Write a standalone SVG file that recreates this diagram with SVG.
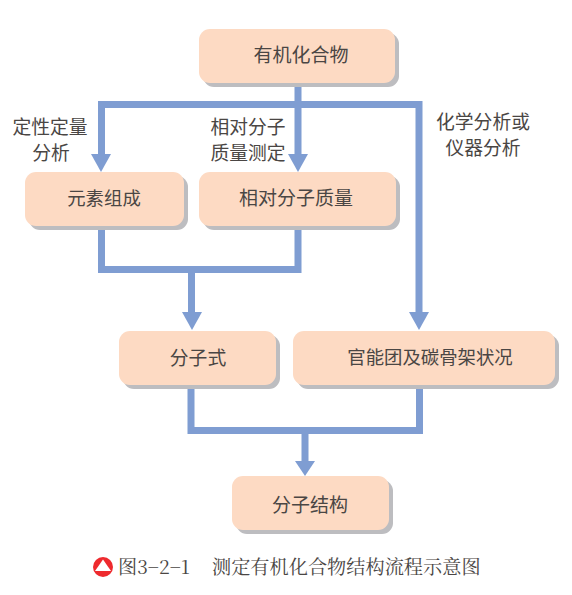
<svg xmlns="http://www.w3.org/2000/svg" width="572" height="595" viewBox="0 0 572 595">
<style>
text{font-family:"Noto Sans CJK SC","Liberation Sans",sans-serif;font-size:19px;fill:#4a4644;text-anchor:middle}
.lb{font-size:18.800px}
.nr{font-size:18.400px}
.cap{font-family:"Noto Serif CJK SC","Liberation Serif","Noto Sans CJK SC",serif;font-size:19.200px;text-anchor:start}
.box{fill:#fddac3}
.sh{fill:#bdbdc0}
.ln{fill:none;stroke:#7f9dd2;stroke-width:7}
.ah{fill:#7f9dd2}
</style>
<rect width="572" height="595" fill="#fff"/>
<g id="connectors">
<path class="ln" d="M298 83V158M101.500 158V104.500H419V316"/>
<path class="ln" d="M101.500 226V269.500H298V226M191.500 269.500V316"/>
<path class="ln" d="M191 384V430.500H419.500V384M305 430.500V462"/>
<polygon class="ah" points="91,154 111,154 101,172"/>
<polygon class="ah" points="288,154 308,154 298,172"/>
<polygon class="ah" points="182,312 202,312 192,330"/>
<polygon class="ah" points="409,312 429,312 419,330"/>
<polygon class="ah" points="295,461 315,461 305,476"/>
</g>
<g id="n1"><rect class="sh" x="203" y="33" width="196" height="54" rx="11"/><rect class="box" x="199" y="29" width="196" height="54" rx="11"/><text x="301" y="62">有机化合物</text></g>
<g id="n2"><rect class="sh" x="29" y="176" width="159" height="54" rx="11"/><rect class="box" x="25" y="172" width="159" height="54" rx="11"/><text class="nr" x="104" y="205">元素组成</text></g>
<g id="n3"><rect class="sh" x="203" y="176" width="197" height="54" rx="11"/><rect class="box" x="199" y="172" width="197" height="54" rx="11"/><text x="296" y="205">相对分子质量</text></g>
<g id="n4"><rect class="sh" x="123" y="335" width="157" height="54" rx="11"/><rect class="box" x="119" y="331" width="157" height="54" rx="11"/><text class="lb" x="198" y="365">分子式</text></g>
<g id="n5"><rect class="sh" x="297" y="335" width="262" height="54" rx="11"/><rect class="box" x="293" y="331" width="262" height="54" rx="11"/><text class="nr" x="430" y="364">官能团及碳骨架状况</text></g>
<g id="n6"><rect class="sh" x="236" y="480" width="157" height="54" rx="11"/><rect class="box" x="232" y="476" width="157" height="54" rx="11"/><text x="310" y="512">分子结构</text></g>
<g id="labels">
<text class="lb" x="50" y="134">定性定量</text><text class="lb" x="51" y="160">分析</text>
<text class="lb" x="248" y="134">相对分子</text><text class="lb" x="248" y="160">质量测定</text>
<text class="lb" x="483" y="129">化学分析或</text><text class="lb" x="483" y="155">仪器分析</text>
</g>
<g id="caption">
<circle cx="103" cy="567" r="10" fill="#ee2a2e"/><polygon points="103,559.500 111,571 95,571" fill="#fff"/>
<text class="cap" x="118" y="574">图3−2−1</text>
<text class="cap" x="212" y="574">测定有机化合物结构流程示意图</text>
</g>
</svg>
